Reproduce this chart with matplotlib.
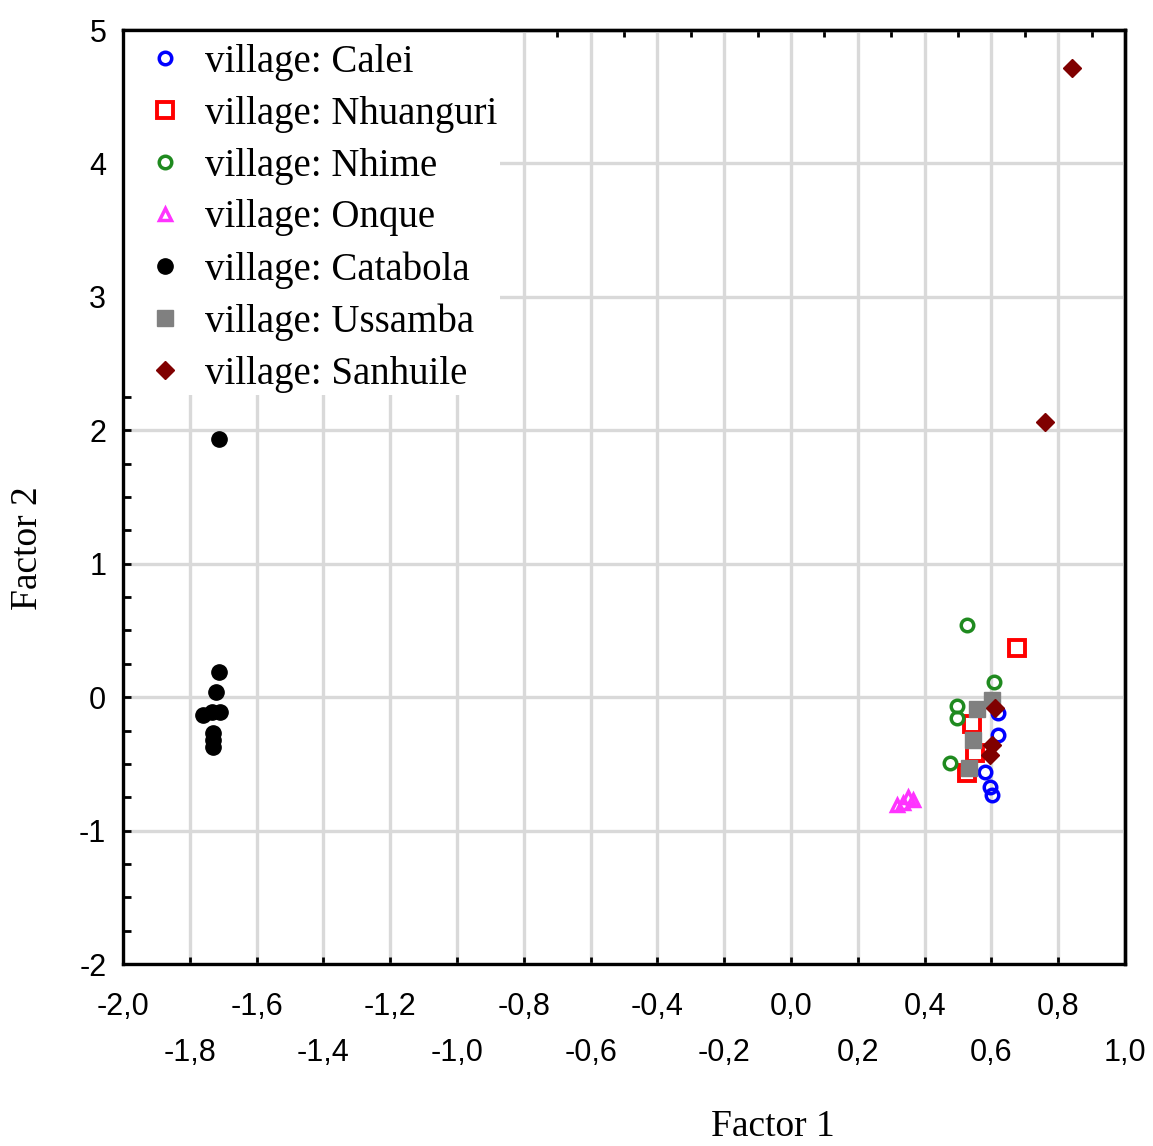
import numpy as np
import matplotlib.pyplot as plt
from matplotlib.patches import Rectangle
from matplotlib.ticker import MultipleLocator, FixedLocator, FuncFormatter

# Dane (Factor 1, Factor 2) dla każdej wioski
calei_x = [0.621, 0.621, 0.581, 0.596, 0.601]
calei_y = [-0.12, -0.285, -0.56, -0.67, -0.73]

nhuanguri_x = [0.678, 0.541, 0.550, 0.526]
nhuanguri_y = [0.37, -0.20, -0.42, -0.57]

nhime_x = [0.528, 0.609, 0.498, 0.498, 0.476]
nhime_y = [0.54, 0.115, -0.067, -0.16, -0.49]

onque_x = [0.316, 0.335, 0.351, 0.366]
onque_y = [-0.81, -0.79, -0.75, -0.77]

catabola_x = [-1.713, -1.712, -1.722, -1.760, -1.734, -1.710, -1.730, -1.730, -1.732]
catabola_y = [1.934, 0.19, 0.04, -0.135, -0.11, -0.11, -0.27, -0.32, -0.37]

ussamba_x = [0.556, 0.601, 0.544, 0.534]
ussamba_y = [-0.09, -0.02, -0.32, -0.53]

sanhuile_x = [0.841, 0.760, 0.611, 0.601, 0.596]
sanhuile_y = [4.715, 2.06, -0.085, -0.36, -0.43]

plt.rcParams['font.family'] = ['Liberation Sans', 'DejaVu Sans']
plt.rcParams['axes.unicode_minus'] = False

fig = plt.figure(figsize=(11.53, 11.46), dpi=100)
ax = fig.add_axes([123 / 1153, 1 - 964 / 1146, (1125 - 123) / 1153, (964 - 30) / 1146])

ax.plot(calei_x, calei_y, 'o', ms=9, mfc='none', mec='#0000ff', mew=2.5, label='village: Calei', zorder=3)
ax.plot(nhuanguri_x, nhuanguri_y, 's', ms=11, mfc='none', mec='#ff0000', mew=2.8, label='village: Nhuanguri', zorder=3)
ax.plot(nhime_x, nhime_y, 'o', ms=9, mfc='none', mec='#1f8a1f', mew=2.5, label='village: Nhime', zorder=3)
ax.plot(onque_x, onque_y, '^', ms=9, mfc='none', mec='#ff33ff', mew=2.5, label='village: Onque', zorder=3)
ax.plot(catabola_x, catabola_y, 'o', ms=11, color='black', label='village: Catabola', zorder=3)
ax.plot(ussamba_x, ussamba_y, 's', ms=12, color='#808080', label='village: Ussamba', zorder=3)
ax.plot(sanhuile_x, sanhuile_y, 'D', ms=9, color='#800000', label='village: Sanhuile', zorder=3)

ax.set_xlim(-2.0, 1.0)
ax.set_ylim(-2, 5)

# Podpisy osi X w dwóch rzędach
ax.xaxis.set_major_locator(FixedLocator(np.round(np.arange(-2.0, 1.01, 0.4), 1)))
ax.xaxis.set_minor_locator(FixedLocator(np.round(np.arange(-1.8, 1.01, 0.4), 1)))
fmt = FuncFormatter(lambda v, p: f"{v:.1f}".replace('.', ',').replace('-0,0', '0,0'))
ax.xaxis.set_major_formatter(fmt)
ax.xaxis.set_minor_formatter(fmt)
ax.tick_params(axis='x', which='major', direction='in', length=5, width=2, pad=20, labelsize=22)
ax.tick_params(axis='x', which='minor', direction='in', length=5, width=2, pad=53, labelsize=22)

ax.yaxis.set_major_locator(MultipleLocator(1))
ax.yaxis.set_minor_locator(MultipleLocator(0.25))
ax.tick_params(axis='y', which='both', direction='in', length=6, width=2, pad=12, labelsize=22)

ax.grid(True, which='both', axis='x', color='#d9d9d9', lw=2.4, zorder=0)
ax.grid(True, which='major', axis='y', color='#d9d9d9', lw=2.4, zorder=0)
ax.set_axisbelow(True)

for s in ax.spines.values():
    s.set_linewidth(2.4)

top = ax.secondary_xaxis('top')
top.xaxis.set_major_locator(MultipleLocator(0.1))
top.tick_params(direction='in', length=5, width=2, labeltop=False)
top.spines['top'].set_linewidth(2.4)

right = ax.secondary_yaxis('right')
right.yaxis.set_major_locator(MultipleLocator(1))
right.tick_params(direction='in', length=5, width=2, labelright=False)
right.spines['right'].set_linewidth(2.4)

# Białe tło legendy zasłaniające siatkę
ax.add_patch(Rectangle((0, 1 - 365 / 934), 377 / 1002, 365 / 934, transform=ax.transAxes,
                       facecolor='white', edgecolor='none', zorder=1.5))

leg = ax.legend(loc='upper left', bbox_to_anchor=(0.0226, 0.985),
                prop={'family': 'Liberation Serif', 'size': 28},
                frameon=False, handlelength=1.0, handletextpad=0.53, labelspacing=0.38,
                borderpad=0, borderaxespad=0, numpoints=1)
leg.set_zorder(5)

fig.text(773 / 1153, 1 - 1127 / 1146, 'Factor 1', family='Liberation Serif', size=27,
         ha='center', va='center')
fig.text(28 / 1153, 1 - 548 / 1146, 'Factor 2', family='Liberation Serif', size=27,
         ha='center', va='center', rotation=90)

fig.savefig('out.png', dpi=100)
